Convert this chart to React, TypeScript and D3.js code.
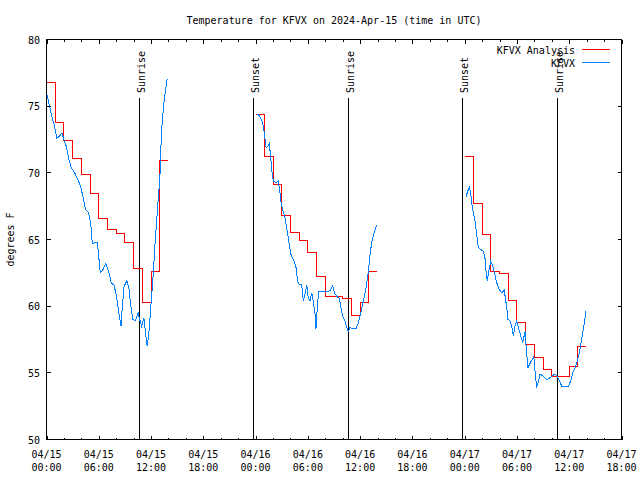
import * as d3 from "d3";

// chart window: 04/15 00:00 UTC .. 04/17 18:00 UTC
const START = Date.UTC(2024, 3, 15, 0, 0);
const END = Date.UTC(2024, 3, 17, 18, 0);

const TITLE = "Temperature for KFVX on 2024-Apr-15 (time in UTC)";
const Y_LABEL = "degrees F";
const SERIES_NAMES = ["KFVX Analysis", "KFVX"];
const SERIES_COLORS = ["#ff0000", "#0080ff"];

// hourly analysis values, 00Z..13Z each day
const analysisStartHours = [0, 24, 48];
const analysisDay1 = [76.75, 73.75, 72.4, 71.05, 69.9, 68.45, 66.6, 65.75, 65.45, 64.75, 62.8, 60.25, 62.6, 70.9];
const analysisDay2 = [74.4, 71.2, 69.1, 66.8, 65.55, 64.9, 64.0, 62.2, 60.7, 60.7, 60.55, 59.3, 60.25, 62.6];
const analysisDay3 = [71.25, 67.7, 65.4, 62.6, 62.45, 60.4, 58.8, 57.1, 56.15, 55.25, 54.75, 54.7, 55.5, 56.95];

// observations: [hours since start, temp F]
const obsDay1: [number, number][] = [
  [0.08, 75.8], [0.35, 75.0], [0.61, 74.25], [0.92, 73.5], [1.19, 72.6], [1.5, 72.75], [1.77, 73.0],
  [2.0, 72.5], [2.27, 72.0], [2.53, 71.1], [2.84, 70.4], [3.23, 70.0], [3.6, 69.5], [3.9, 69.0],
  [4.18, 68.25], [4.49, 67.25], [4.84, 67.0], [5.07, 66.25], [5.26, 64.7], [5.53, 64.75], [5.84, 64.75],
  [5.99, 63.75], [6.18, 62.5], [6.49, 62.75], [6.8, 63.2], [7.14, 62.6], [7.45, 61.7], [7.75, 61.6],
  [8.03, 60.75], [8.3, 59.5], [8.56, 58.5], [8.68, 59.75], [8.91, 61.5], [9.22, 61.9], [9.45, 61.4],
  [9.68, 60.0], [9.91, 59.0], [10.22, 58.9], [10.52, 59.5], [10.68, 59.05], [10.91, 58.5], [11.18, 59.1],
  [11.37, 58.0], [11.56, 57.0], [11.75, 58.0], [11.98, 60.0], [12.21, 62.0], [12.44, 64.5], [12.71, 67.0],
  [13.02, 69.75], [13.21, 73.25], [13.51, 75.5], [13.85, 77.05],
];
const obsDay2: [number, number][] = [
  [24.2, 74.43], [24.51, 74.2], [24.82, 73.75], [25.05, 72.75], [25.2, 71.9], [25.4, 72.0], [25.58, 72.2],
  [25.74, 71.1], [25.89, 70.0], [26.03, 69.4], [26.34, 69.25], [26.61, 69.4], [26.8, 68.5], [26.95, 67.6],
  [27.18, 67.1], [27.41, 66.5], [27.64, 65.6], [27.87, 64.6], [28.1, 63.75], [28.41, 63.4], [28.64, 62.9],
  [28.83, 61.9], [29.02, 61.6], [29.29, 61.6], [29.48, 60.4], [29.67, 60.9], [29.87, 61.6], [30.05, 60.6],
  [30.24, 60.4], [30.44, 61.0], [30.62, 60.4], [30.82, 59.4], [30.93, 58.3], [31.08, 59.9], [31.24, 61.1],
  [31.59, 61.1], [31.97, 61.1], [32.54, 61.15], [32.85, 61.5], [33.12, 60.9], [33.39, 60.7], [33.61, 60.6],
  [33.77, 60.0], [34.0, 59.25], [34.26, 58.9], [34.46, 58.4], [34.64, 58.1], [34.84, 58.4], [35.15, 58.3],
  [35.53, 58.3], [35.79, 58.75], [36.07, 59.5], [36.37, 60.4], [36.68, 61.4], [36.95, 62.6], [37.14, 63.9],
  [37.36, 64.9], [37.59, 65.5], [37.9, 66.1],
];
const obsDay3: [number, number][] = [
  [48.15, 68.2], [48.34, 68.6], [48.53, 68.9], [48.68, 68.5], [48.84, 67.6], [48.99, 67.0], [49.18, 66.4],
  [49.37, 65.4], [49.56, 64.4], [49.84, 64.25], [50.14, 64.1], [50.33, 63.6], [50.45, 62.6], [50.6, 61.9],
  [50.76, 62.6], [50.99, 63.4], [51.22, 63.0], [51.45, 62.4], [51.68, 61.75], [51.98, 61.25], [52.25, 61.0],
  [52.55, 61.2], [52.67, 60.6], [52.83, 59.9], [52.97, 59.0], [53.2, 58.9], [53.43, 58.4], [53.58, 57.75],
  [53.78, 58.5], [53.97, 58.9], [54.16, 58.4], [54.39, 57.9], [54.66, 57.25], [54.93, 58.1], [55.12, 56.4],
  [55.27, 55.4], [55.5, 55.7], [55.74, 56.0], [55.93, 56.25], [56.08, 55.1], [56.26, 53.9], [56.42, 54.25],
  [56.65, 54.9], [57.03, 54.75], [57.42, 54.5], [57.72, 54.6], [58.11, 54.8], [58.38, 54.9], [58.64, 54.75],
  [58.87, 54.4], [59.15, 54.0], [59.53, 54.0], [59.9, 54.0], [60.18, 54.4], [60.41, 55.0], [60.67, 55.4],
  [60.94, 55.9], [61.13, 56.4], [61.33, 57.1], [61.51, 57.9], [61.71, 58.6], [61.9, 59.6],
];

const eventTimes = ["2024-04-15T10:39Z", "2024-04-15T23:42Z", "2024-04-16T10:38Z", "2024-04-16T23:44Z", "2024-04-17T10:38Z"];
const eventLabels = ["Sunrise", "Sunset", "Sunrise", "Sunset", "Sunrise"];

const yTickValues = [50, 55, 60, 65, 70, 75, 80];

const FONT = "'DejaVu Sans Mono', 'Liberation Mono', monospace";

export default function App() {
  const width = 640;
  const height = 480;
  const m = { left: 46.5, right: 621.5, top: 39.5, bottom: 439.5 };

  const x = d3.scaleUtc().domain([new Date(START), new Date(END)]).range([m.left, m.right]);
  const y = d3.scaleLinear().domain([50, 80]).range([m.bottom, m.top]);
  const gy = d3.scaleLinear().domain([0, 1]).range([m.bottom, m.top]); // graph fraction

  const hourDate = (h: number) => new Date(START + h * 3600000);

  const obsLine = d3.line<[number, number]>()
    .x(d => x(hourDate(d[0])))
    .y(d => y(d[1]));
  const stepLine = d3.line<[number, number]>()
    .x(d => x(hourDate(d[0])))
    .y(d => y(d[1]))
    .curve(d3.curveStepAfter);

  const analysis = [analysisDay1, analysisDay2, analysisDay3].map((vals, k) => {
    const s = analysisStartHours[k];
    const pts: [number, number][] = vals.map((v, i) => [s + i, v]);
    pts.push([s + 13.9, vals[vals.length - 1]]);
    return pts;
  });
  const obs = [obsDay1, obsDay2, obsDay3];

  const majorTicks = x.ticks(d3.utcHour.every(6)!);
  const minorTicks = x.ticks(d3.utcHour.every(2)!).filter(d => d.getUTCHours() % 6 !== 0);
  const fmtDay = d3.utcFormat("%m/%d");
  const fmtHour = d3.utcFormat("%H:%M");

  const majLen = 4;
  const minLen = 2;

  return (
    <svg width={width} height={height} style={{ position: "absolute", left: 0, top: 0, background: "#fff" }}
      fontFamily={FONT} fontSize={10}>
      <rect x={0} y={0} width={width} height={height} fill="#fff" />

      <text x={334} y={24} textAnchor="middle">{TITLE}</text>

      {/* events */}
      {eventTimes.map((t, i) => {
        const ex = Math.round(x(new Date(t))) + 0.5;
        return (
          <g key={"ev" + i}>
            <line x1={ex} x2={ex} y1={m.bottom} y2={gy(0.855)} stroke="#000" shapeRendering="crispEdges" />
            <text transform={`translate(${ex + 5},93) rotate(-90)`} textAnchor="start">{eventLabels[i]}</text>
          </g>
        );
      })}

      {/* data */}
      {analysis.map((pts, i) => (
        <path key={"a" + i} d={stepLine(pts) || ""} fill="none" stroke={SERIES_COLORS[0]} strokeWidth={1}
          shapeRendering="crispEdges" />
      ))}
      {obs.map((pts, i) => (
        <path key={"o" + i} d={obsLine(pts) || ""} fill="none" stroke={SERIES_COLORS[1]} strokeWidth={1}
          shapeRendering="crispEdges" />
      ))}

      {/* border */}
      <rect x={m.left} y={m.top} width={m.right - m.left} height={m.bottom - m.top}
        fill="none" stroke="#000" shapeRendering="crispEdges" />

      {/* ticks */}
      <g stroke="#000" shapeRendering="crispEdges">
        {majorTicks.map((d, i) => {
          const tx = Math.round(x(d)) + 0.5;
          return (
            <g key={"mx" + i}>
              <line x1={tx} x2={tx} y1={m.bottom} y2={m.bottom - majLen} />
              <line x1={tx} x2={tx} y1={m.top} y2={m.top + majLen} />
            </g>
          );
        })}
        {minorTicks.map((d, i) => {
          const tx = Math.round(x(d)) + 0.5;
          return (
            <g key={"nx" + i}>
              <line x1={tx} x2={tx} y1={m.bottom} y2={m.bottom - minLen} />
              <line x1={tx} x2={tx} y1={m.top} y2={m.top + minLen} />
            </g>
          );
        })}
        {yTickValues.map((v, i) => (
          <g key={"y" + i}>
            <line x1={m.left} x2={m.left + majLen} y1={y(v)} y2={y(v)} />
            <line x1={m.right} x2={m.right - majLen} y1={y(v)} y2={y(v)} />
          </g>
        ))}
      </g>

      {majorTicks.map((d, i) => (
        <text key={"lx" + i} x={x(d)} textAnchor="middle">
          <tspan x={x(d)} y={457.5}>{fmtDay(d)}</tspan>
          <tspan x={x(d)} y={470.5}>{fmtHour(d)}</tspan>
        </text>
      ))}
      {yTickValues.map((v, i) => (
        <text key={"ly" + i} x={40} y={y(v) + 4} textAnchor="end">{v}</text>
      ))}

      <text transform={`translate(14,${(m.top + m.bottom) / 2}) rotate(-90)`} textAnchor="middle">{Y_LABEL}</text>

      {/* legend */}
      {SERIES_NAMES.map((name, i) => (
        <g key={"lg" + i}>
          <text x={575} y={54 + i * 12.7} textAnchor="end">{name}</text>
          <line x1={582} x2={610} y1={49.5 + i * 13} y2={49.5 + i * 13} stroke={SERIES_COLORS[i]} shapeRendering="crispEdges" />
        </g>
      ))}
    </svg>
  );
}
